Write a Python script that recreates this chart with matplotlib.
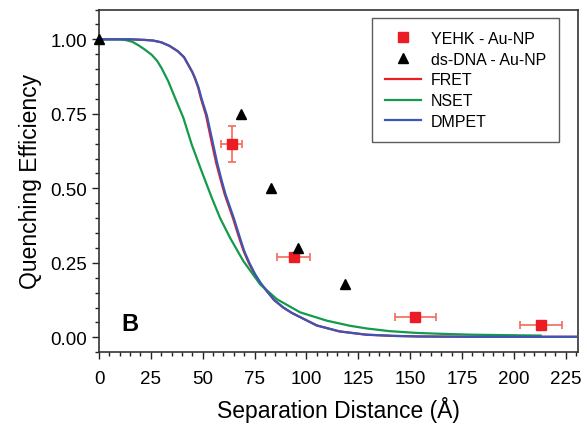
import matplotlib.pyplot as plt

plt.rcParams['font.family'] = ['Liberation Sans', 'DejaVu Sans']

# --- measured points ---
yehk_x = [64.0, 93.8, 152.5, 213.0]
yehk_y = [0.65, 0.27, 0.07, 0.04]
yehk_xerr = [5.0, 8.0, 10.0, 10.2]
yehk_yerr = [0.06, 0.0, 0.0, 0.0]

dna_x = [0.0, 68.5, 83.0, 95.9, 118.7]
dna_y = [1.0, 0.75, 0.50, 0.30, 0.18]

# --- model curves ---
dmpet_x = [0, 15, 22, 26, 30, 34, 38, 41, 43, 45, 46.3, 48, 49.5, 52, 54.5, 57,
           59.2, 61, 63, 65, 67.7, 70, 72.5, 75.3, 78, 80.9, 84.5, 88.9, 93, 97,
           105, 116, 129, 142, 155, 180, 230]
dmpet_y = [1.0, 1.0, 0.998, 0.996, 0.99, 0.978, 0.96, 0.94, 0.915, 0.89, 0.87,
           0.838, 0.80, 0.745, 0.665, 0.585, 0.525, 0.48, 0.44, 0.40, 0.34,
           0.29, 0.25, 0.212, 0.182, 0.156, 0.125, 0.10, 0.082, 0.068, 0.04,
           0.02, 0.009, 0.005, 0.003, 0.002, 0.002]

fret_x = [0, 15, 22, 26, 30, 34, 38, 41, 43, 45, 46.2, 47.8, 49.2, 51.6, 54, 56.5,
          58.8, 60.6, 62.6, 64.6, 67.3, 69.7, 72.2, 75, 77.8, 80.8, 84.5, 88.9,
          93, 97, 105, 116, 129, 142, 155, 180, 230]
fret_y = dmpet_y

nset_x = [0, 10, 12.5, 16, 19, 22, 25.4, 28, 30.2, 33.4, 36.7, 40.7, 44.7, 49.5,
          54.4, 58.4, 63.2, 69.6, 77.7, 85.8, 97, 109.9, 121, 129, 140, 153,
          165, 180, 213]
nset_y = [1.0, 1.0, 0.998, 0.992, 0.98, 0.966, 0.948, 0.928, 0.903, 0.859,
          0.803, 0.736, 0.647, 0.557, 0.468, 0.40, 0.334, 0.256, 0.178, 0.128,
          0.084, 0.056, 0.039, 0.03, 0.021, 0.015, 0.012, 0.009, 0.006]

xticks = [0, 25, 50, 75, 100, 125, 150, 175, 200, 225]
yticks = [0.0, 0.25, 0.5, 0.75, 1.0]

red = '#ec1c24'
green = '#139a4a'
blue = '#3b56b5'

fig = plt.figure(figsize=(5.87, 4.31), dpi=100)
ax = fig.add_axes([0.1687, 0.1803, 0.816, 0.7953])

ax.plot(fret_x, fret_y, color=red, lw=1.6, label='FRET', zorder=2)
ax.plot(nset_x, nset_y, color=green, lw=1.6, label='NSET', zorder=3)
ax.plot(dmpet_x, dmpet_y, color=blue, lw=1.6, label='DMPET', zorder=4)

ax.errorbar(yehk_x, yehk_y, xerr=yehk_xerr, yerr=yehk_yerr, fmt='none',
            ecolor='#f26b5b', elinewidth=1.2, capsize=3, capthick=1.2, zorder=5)
ax.plot(yehk_x, yehk_y, 's', color=red, ms=7, ls='none',
        label='YEHK - Au-NP', zorder=6)
ax.plot(dna_x, dna_y, '^', color='black', ms=7.5, ls='none',
        label='ds-DNA - Au-NP', zorder=6, clip_on=False)

ax.set_xlim(0, 231)
ax.set_ylim(-0.045, 1.10)
ax.set_xticks(xticks)
ax.set_xticklabels([str(t) for t in xticks])
ax.set_yticks(yticks)
ax.set_yticklabels(['%.2f' % t for t in yticks])
ax.set_xticks(range(0, 231, 5), minor=True)
ax.set_yticks([i * 0.05 - 0.05 for i in range(0, 24)], minor=True)
ax.tick_params(which='major', direction='out', length=5, width=1,
               labelsize=13.5, colors='#222222', labelcolor='black')
ax.tick_params(which='minor', direction='out', length=3, width=1,
               colors='#222222')
ax.tick_params(axis='x', pad=8)

for s in ax.spines.values():
    s.set_color('#333333')
    s.set_linewidth(1.2)

ax.set_xlabel('Separation Distance (Å)', fontsize=16.5, labelpad=6)
ax.set_ylabel('Quenching Efficiency', fontsize=16.5, labelpad=6)

ax.text(15, 0.045, 'B', fontsize=17, fontweight='bold', ha='center',
        va='center')

h, l = ax.get_legend_handles_labels()
order = ['YEHK - Au-NP', 'ds-DNA - Au-NP', 'FRET', 'NSET', 'DMPET']
hd = dict(zip(l, h))
leg = ax.legend([hd[k] for k in order], order, loc='upper right',
                bbox_to_anchor=(0.96, 0.975), fontsize=11.5, frameon=True,
                fancybox=False, edgecolor='#333333', handlelength=2.3,
                labelspacing=0.36, borderpad=0.8, handletextpad=0.6,
                borderaxespad=0)
leg.get_frame().set_linewidth(1.0)

fig.savefig('out.png', dpi=100)
